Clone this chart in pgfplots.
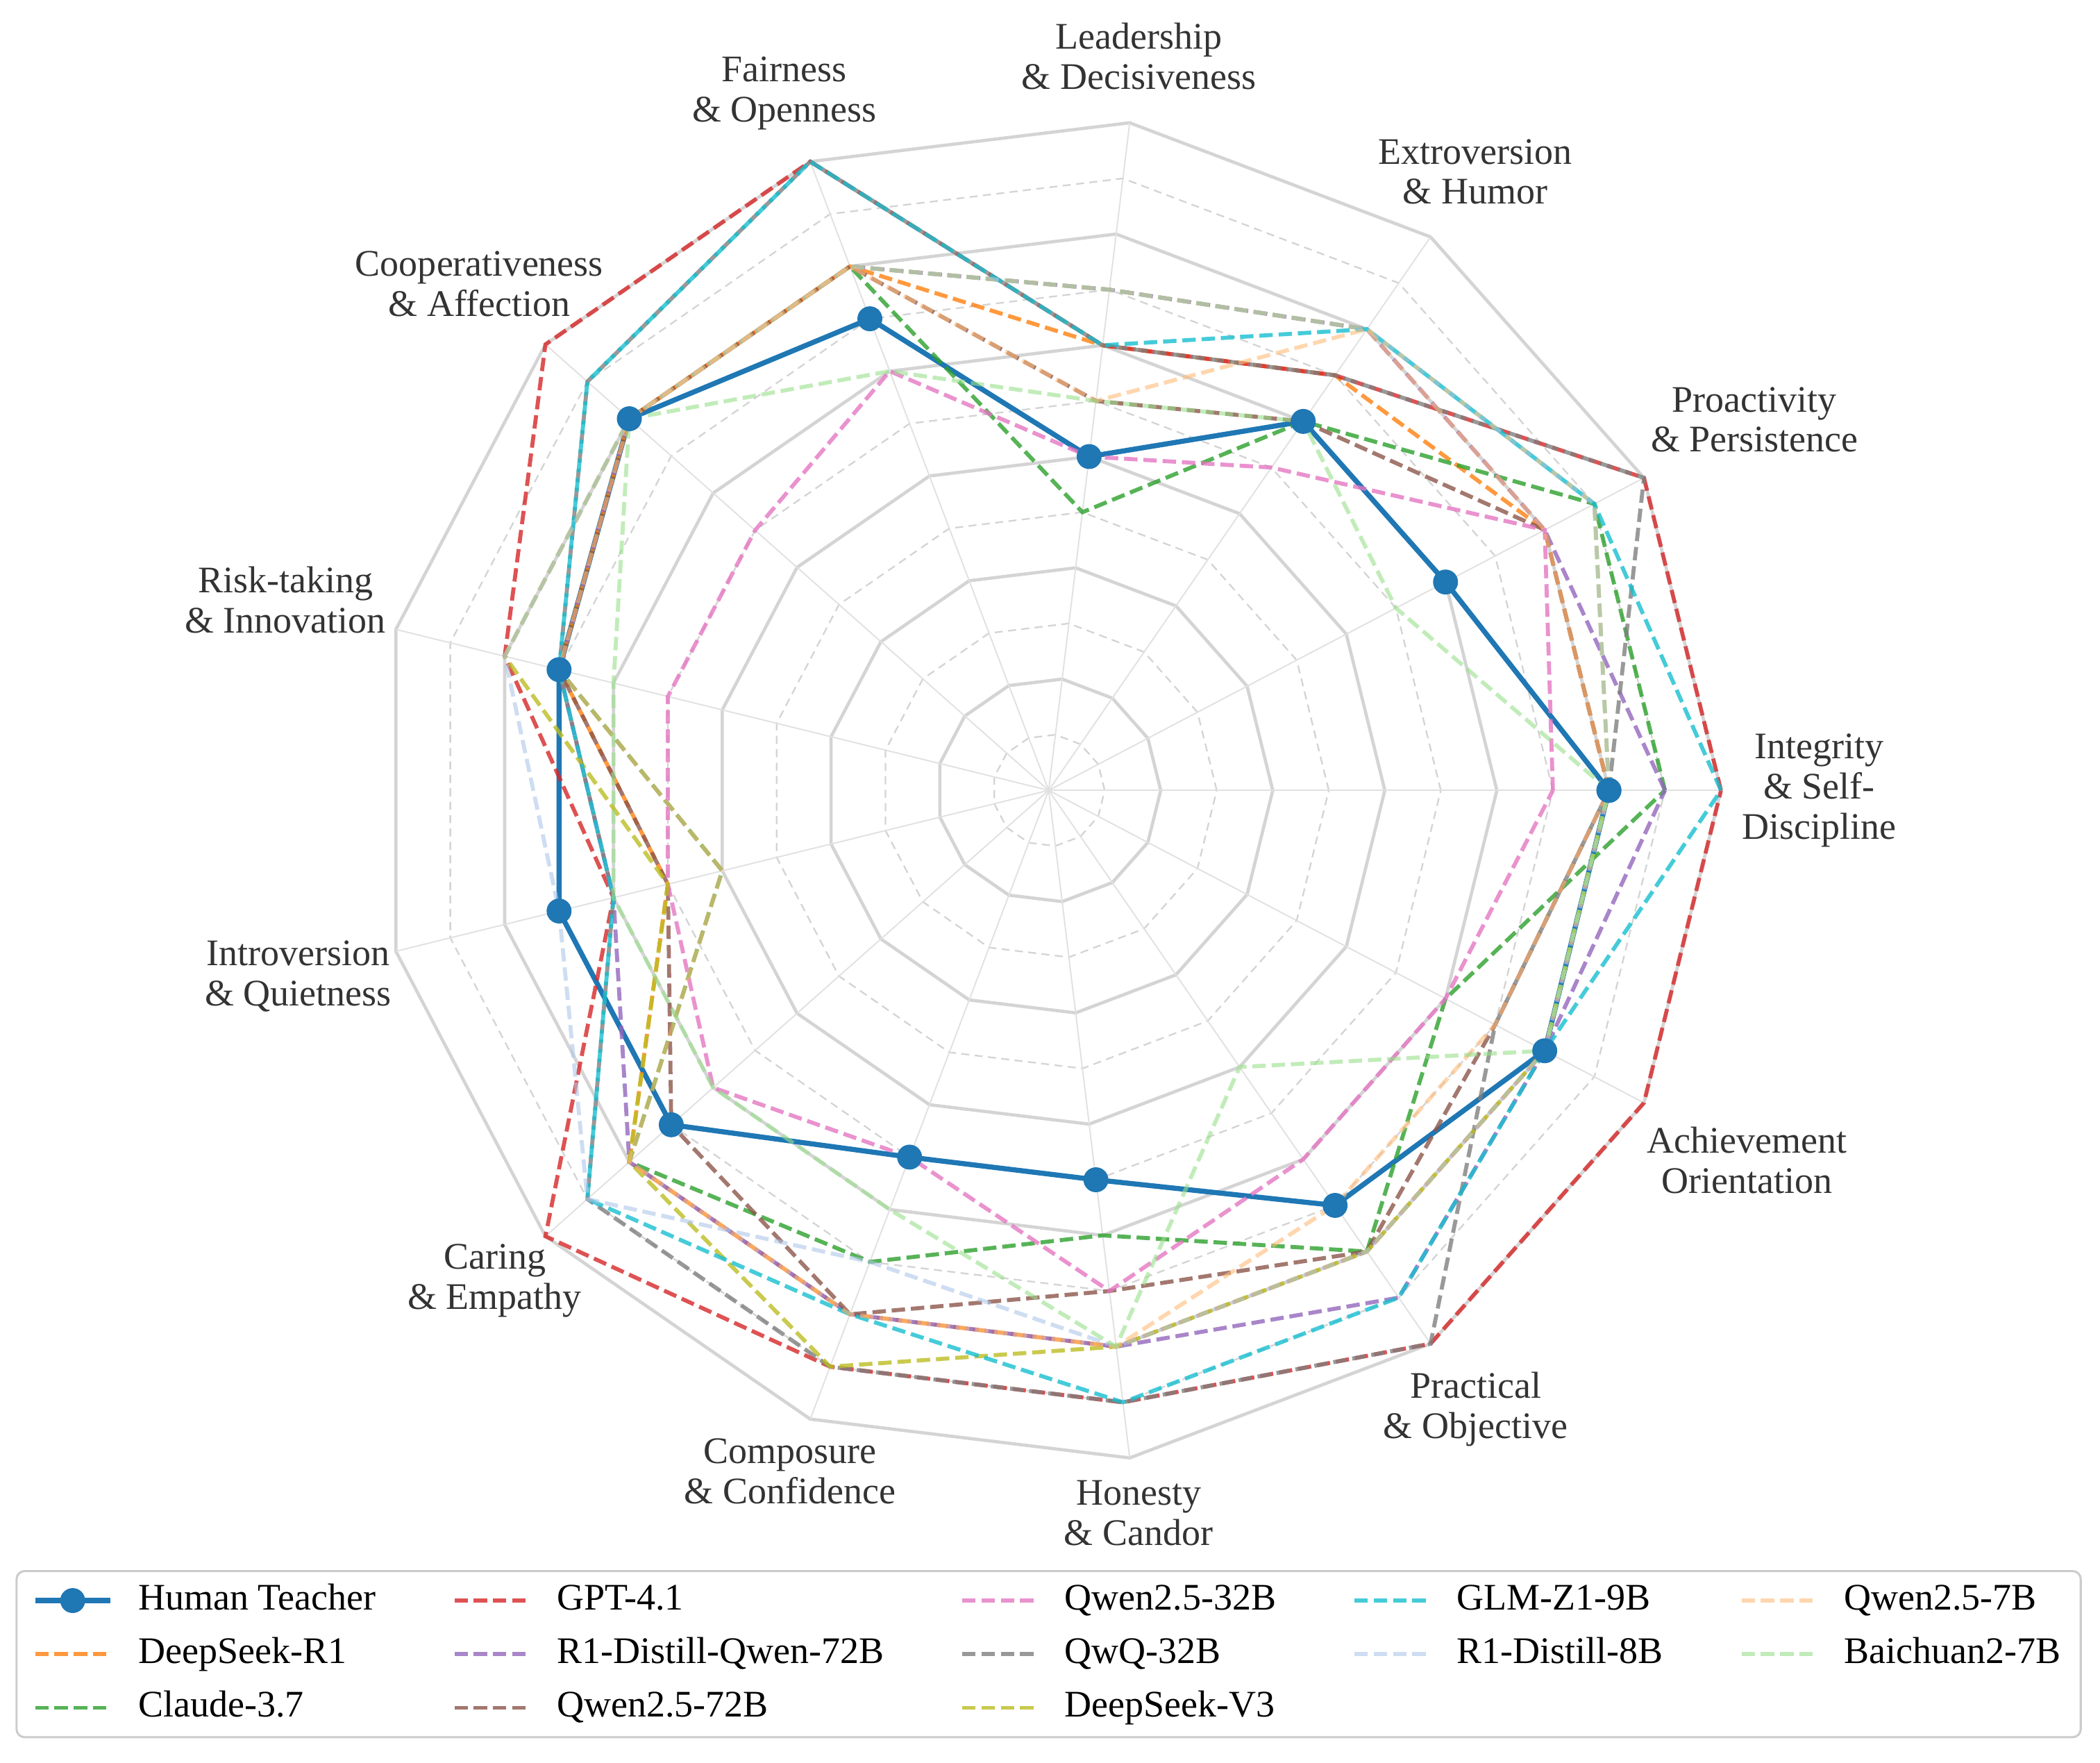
\documentclass[border=0pt]{standalone}
\usepackage{fontspec}
\setmainfont{Liberation Serif}
\usepackage{pgfplots}
\pgfplotsset{compat=1.18}
\usepackage{pgfplotstable}
\usepgfplotslibrary{polar}

\definecolor{cHuman}{HTML}{1F77B4}
\definecolor{cDSR}{HTML}{FF7F0E}
\definecolor{cClaude}{HTML}{2CA02C}
\definecolor{cGPT}{HTML}{D62728}
\definecolor{cRQ}{HTML}{9467BD}
\definecolor{cQ72}{HTML}{8C564B}
\definecolor{cQ32}{HTML}{E377C2}
\definecolor{cQwQ}{HTML}{7F7F7F}
\definecolor{cDSV}{HTML}{BCBD22}
\definecolor{cGLM}{HTML}{17BECF}
\definecolor{cR8}{HTML}{AEC7E8}
\definecolor{cQ7}{HTML}{FFBB78}
\definecolor{cBai}{HTML}{98DF8A}
\definecolor{gridc}{HTML}{D4D4D4}

% angle in degrees, one column per model (13 traits, first row repeated to close)
\pgfplotstableread{
angle    human dsr1 claude gpt r1q72 q72 q32 qwq dsv3 glm r18 q7 bai
0        10    10   11     12  11    10  9   10  10   12  10  10 10
27.6923  8     10   11     12  10    10  10  12  11   11  11  10 7
55.3846  8     9    8      9   10    8   7   9   10   10  10  10 8
83.0769  6     8    5      8   9     7   6   8   9    8   9   7  7
110.7692 9     10   10     12  10    10  8   12  10   12  10  10 8
138.4615 10    10   10     12  10    10  7   11  10   11  10  10 10
166.1538 9     9    9      10  9     9   7   9   10   9   10  9  8
193.8462 9     7    6      8   8     7   7   8   7    8   9   6  8
221.5385 9     10   10     12  10    9   8   11  10   11  11  10 8
249.2308 7     10   9      11  10    10  7   11  11   10  9   10 8
276.9231 7     10   8      11  10    9   9   11  10   11  10  10 10
304.6154 9     10   10     12  11    10  8   12  10   11  10  9  6
332.3077 10    10   8      12  10    9   8   9   10   10  10  9  10
360      10    10   11     12  11    10  9   10  10   12  10  10 10
}\scores

\tikzset{
  mdash/.style={line width=1.5pt, dash pattern=on 5pt off 2.2pt, opacity=0.8},
  ldash/.style={line width=1.5pt, dash pattern=on 5pt off 2.2pt, opacity=0.6},
  lab/.style={align=center, font=\fontsize{14}{15}\selectfont, text=black!80},
}

\begin{document}
\begin{tikzpicture}
\begin{polaraxis}[
    name=ax,
    scale only axis,
    width=502pt, height=502pt,
    xmin=0, xmax=360, ymin=0, ymax=12,
    hide axis,
    clip=false,
    legend columns=5,
    legend cell align=left,
    legend image code/.code={\draw[mark repeat=2,mark phase=2,#1] plot coordinates {(0pt,0pt) (14pt,0pt) (28pt,0pt)};},
    legend style={at={(0.5,-0.0797)}, anchor=north,
        draw=black!20, rounded corners=3pt, line width=0.8pt,
        font=\fontsize{14}{16}\selectfont,
        inner xsep=6pt, inner ysep=3pt,
        nodes={inner sep=1.5pt, text height=10pt, text depth=3pt},
        row sep=4pt,
        /tikz/every odd column/.append style={column sep=8pt},
        /tikz/every even column/.append style={column sep=27pt}},
]
% polygon grid
\pgfplotsinvokeforeach{2,4,6,8,10,12}{
  \addplot[forget plot, gridc, line width=1.2pt] table[x=angle, y expr=#1] {\scores};
}
\pgfplotsinvokeforeach{1,3,5,7,9,11}{
  \addplot[forget plot, gridc, line width=0.6pt, dash pattern=on 3pt off 2pt] table[x=angle, y expr=#1] {\scores};
}
\pgfplotsinvokeforeach{0,27.6923,55.3846,83.0769,110.7692,138.4615,166.1538,193.8462,221.5385,249.2308,276.9231,304.6154,332.3077}{
  \addplot[forget plot, gridc!70, line width=0.5pt] coordinates {(#1,0) (#1,12)};
}

% series
\addplot[forget plot, cHuman, line width=1.9pt, mark=*, mark size=3.7pt] table[x=angle, y=human] {\scores};
\addplot[forget plot, mdash, cDSR]    table[x=angle, y=dsr1]   {\scores};
\addplot[forget plot, mdash, cClaude] table[x=angle, y=claude] {\scores};
\addplot[forget plot, mdash, cGPT]    table[x=angle, y=gpt]    {\scores};
\addplot[forget plot, mdash, cRQ]     table[x=angle, y=r1q72]  {\scores};
\addplot[forget plot, mdash, cQ72]    table[x=angle, y=q72]    {\scores};
\addplot[forget plot, mdash, cQ32]    table[x=angle, y=q32]    {\scores};
\addplot[forget plot, mdash, cQwQ]    table[x=angle, y=qwq]    {\scores};
\addplot[forget plot, mdash, cDSV]    table[x=angle, y=dsv3]   {\scores};
\addplot[forget plot, mdash, cGLM]    table[x=angle, y=glm]    {\scores};
\addplot[forget plot, ldash, cR8]     table[x=angle, y=r18]    {\scores};
\addplot[forget plot, ldash, cQ7]     table[x=angle, y=q7]     {\scores};
\addplot[forget plot, ldash, cBai]    table[x=angle, y=bai]    {\scores};

% legend, row by row so that columns read as in the original
\addlegendimage{cHuman, line width=1.9pt, mark=*, mark size=3.7pt}
\addlegendentry{Human Teacher}
\addlegendimage{mdash, cGPT}    \addlegendentry{GPT-4.1}
\addlegendimage{mdash, cQ32}    \addlegendentry{Qwen2.5-32B}
\addlegendimage{mdash, cGLM}    \addlegendentry{GLM-Z1-9B}
\addlegendimage{ldash, cQ7}     \addlegendentry{Qwen2.5-7B}
\addlegendimage{mdash, cDSR}    \addlegendentry{DeepSeek-R1}
\addlegendimage{mdash, cRQ}     \addlegendentry{R1-Distill-Qwen-72B}
\addlegendimage{mdash, cQwQ}    \addlegendentry{QwQ-32B}
\addlegendimage{ldash, cR8}     \addlegendentry{R1-Distill-8B}
\addlegendimage{ldash, cBai}    \addlegendentry{Baichuan2-7B}
\addlegendimage{mdash, cClaude} \addlegendentry{Claude-3.7}
\addlegendimage{mdash, cQ72}    \addlegendentry{Qwen2.5-72B}
\addlegendimage{mdash, cDSV}    \addlegendentry{DeepSeek-V3}

% trait labels
\node[lab] at (axis cs:0,13.75)     {Integrity\\\& Self-\\Discipline};
\node[lab] at (axis cs:27.7,14.23)  {Proactivity\\\& Persistence};
\node[lab] at (axis cs:55.4,13.41)  {Extroversion\\\& Humor};
\node[lab] at (axis cs:83.0,13.2)   {Leadership\\\& Decisiveness};
\node[lab] at (axis cs:110.77,13.3) {Fairness\\\& Openness};
\node[lab] at (axis cs:138.35,13.6) {Cooperativeness\\\& Affection};
\node[lab] at (axis cs:166.0,14.04) {Risk-taking\\\& Innovation};
\node[lab] at (axis cs:193.9,13.8)  {Introversion\\\& Quietness};
\node[lab] at (axis cs:221.5,13.2)  {Caring\\\& Empathy};
\node[lab] at (axis cs:249.2,13.0)  {Composure\\\& Confidence};
\node[lab] at (axis cs:277.1,13.0)  {Honesty\\\& Candor};
\node[lab] at (axis cs:304.6,13.42) {Practical\\\& Objective};
\node[lab] at (axis cs:332.1,14.1)  {Achievement\\Orientation};
\end{polaraxis}
\pgfresetboundingbox
\path (ax.center) ++(-391.5pt,-363pt) rectangle ++(784pt,658pt);
\end{tikzpicture}
\end{document}
